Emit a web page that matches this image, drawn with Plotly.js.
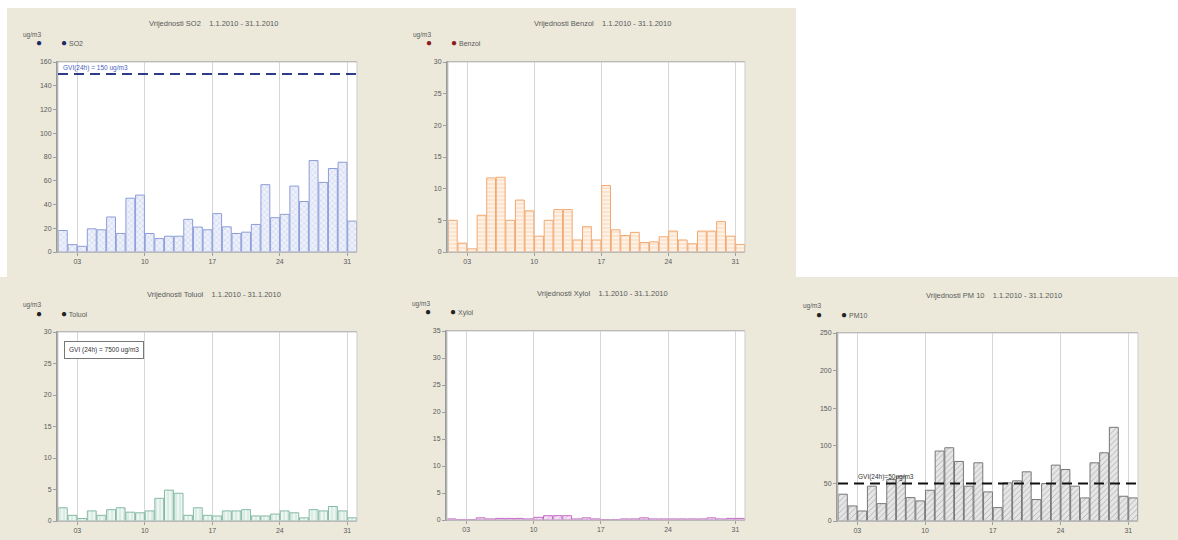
<!DOCTYPE html>
<html>
<head>
<meta charset="utf-8">
<script src="https://cdn.plot.ly/plotly-3.0.1.min.js"></script>
<style>html,body{margin:0;padding:0;background:#fff;}#chart{width:1178px;height:540px;}</style>
</head>
<body>
<div id="chart"></div>
<script>
// ---- data ----
const days = Array.from({length: 31}, (_, i) => i + 1);
const tickVals = [3, 10, 17, 24, 31];
const tickText = ['03', '10', '17', '24', '31'];
const period = '1.1.2010 - 31.1.2010';
const unit = 'ug/m3';

const so2 = [18.1, 6.2, 4.8, 19.5, 18.7, 29.5, 15.6, 45.3, 47.9, 15.6, 11.3, 13.3, 13.3, 27.5, 21.0, 18.7, 32.3, 21.2, 15.6, 16.7, 23.2, 56.7, 28.9, 31.7, 55.5, 42.5, 77.0, 58.6, 70.3, 75.6, 26.0];
const benzol = [5.0, 1.4, 0.5, 5.8, 11.7, 11.8, 5.0, 8.2, 6.5, 2.5, 5.0, 6.7, 6.7, 1.9, 4.0, 1.9, 10.5, 3.5, 2.6, 3.1, 1.5, 1.6, 2.4, 3.3, 1.9, 1.3, 3.3, 3.3, 4.8, 2.5, 1.2];
const toluol = [2.1, 0.9, 0.4, 1.6, 0.9, 1.8, 2.1, 1.4, 1.3, 1.6, 3.6, 4.9, 4.4, 0.9, 2.1, 0.9, 0.8, 1.6, 1.6, 1.8, 0.8, 0.8, 1.1, 1.6, 1.3, 0.5, 1.8, 1.6, 2.3, 1.6, 0.5];
const xylol = [0.2, 0.1, 0.1, 0.4, 0.2, 0.3, 0.3, 0.3, 0.2, 0.5, 0.8, 0.8, 0.8, 0.2, 0.4, 0.2, 0.1, 0.1, 0.2, 0.2, 0.4, 0.2, 0.2, 0.2, 0.2, 0.2, 0.2, 0.4, 0.2, 0.3, 0.3];
const pm10 = [35.6, 20.0, 13.3, 46.3, 23.1, 55.2, 59.6, 31.1, 26.7, 40.9, 93.0, 97.4, 79.2, 46.3, 77.4, 38.7, 17.8, 50.7, 53.4, 65.4, 28.5, 49.8, 74.3, 68.5, 46.3, 30.7, 77.4, 90.7, 124.6, 32.9, 30.7];

const so2Limit = 150;
const pm10Limit = 50;
const so2LimitText = 'GVI(24h) = 150 ug/m3';
const toluolLimitText = 'GVI (24h) = 7500 ug/m3';
const pm10LimitText = 'GVI(24h)=50ug/m3';

// ---- layout helpers ----
const W = 1178, H = 540;
const PX = p => p / W;
const PY = p => 1 - p / H;

const panels = [
  {name: 'SO2', vals: so2, ymax: 160, dtick: 20, box: [58, 357, 62, 252],
   line: '#8d9dd8', fill: '#eef1fa', pat: '#bcc7ec', pshape: 'x', dot: '#1c2a66'},
  {name: 'Benzol', vals: benzol, ymax: 30, dtick: 5, box: [448, 745, 62, 252],
   line: '#f2a870', fill: '#fef2e6', pat: '#f8d2ae', pshape: '-', dot: '#8b1a1a'},
  {name: 'Toluol', vals: toluol, ymax: 30, dtick: 5, box: [58, 357, 332, 521],
   line: '#86b9a5', fill: '#edf6f2', pat: '#bcdccf', pshape: '|', dot: '#222222'},
  {name: 'Xylol', vals: xylol, ymax: 35, dtick: 5, box: [447, 745, 331, 520],
   line: '#c46cc6', fill: '#f4e2f4', pat: '#dba6dc', pshape: '/', dot: '#222222'},
  {name: 'PM10', vals: pm10, ymax: 250, dtick: 50, box: [838, 1138, 333, 521],
   line: '#777777', fill: '#e6e6e6', pat: '#ababab', pshape: '/', dot: '#222222'}
];
const titles = ['Vrijednosti SO2', 'Vrijednosti Benzol', 'Vrijednosti Toluol', 'Vrijednosti Xylol', 'Vrijednosti PM 10'];

const beige = '#ece9da';
const txt = '#5a5a5a';
const fontFam = 'Liberation Sans, Arial, sans-serif';

const data = [];
const layout = {
  width: W, height: H,
  margin: {l: 0, r: 0, t: 0, b: 0},
  paper_bgcolor: beige,
  plot_bgcolor: '#ffffff',
  showlegend: false,
  bargap: 0,
  font: {family: fontFam, size: 7, color: txt},
  shapes: [
    // white areas outside the panel images
    {type: 'rect', xref: 'paper', yref: 'paper', x0: 0, x1: PX(796), y0: PY(8), y1: 1, fillcolor: '#fff', line: {width: 0}, layer: 'below'},
    {type: 'rect', xref: 'paper', yref: 'paper', x0: 0, x1: PX(7), y0: PY(277), y1: 1, fillcolor: '#fff', line: {width: 0}, layer: 'below'},
    {type: 'rect', xref: 'paper', yref: 'paper', x0: PX(796), x1: 1, y0: PY(277), y1: 1, fillcolor: '#fff', line: {width: 0}, layer: 'below'}
  ],
  annotations: []
};

panels.forEach((p, i) => {
  const n = i === 0 ? '' : String(i + 1);
  const xa = 'xaxis' + n, ya = 'yaxis' + n;
  const xr = 'x' + n, yr = 'y' + n;
  const [l, r, t, b] = p.box;

  data.push({
    type: 'bar', x: days, y: p.vals, xaxis: xr, yaxis: yr,
    offset: 0.04, width: 0.92,
    marker: {
      color: p.fill,
      line: {color: p.line, width: 1},
      pattern: {shape: p.pshape, fgcolor: p.pat, bgcolor: p.fill, size: 4, solidity: 0.2}
    },
    hoverinfo: 'x+y'
  });

  layout[xa] = {
    domain: [PX(l), PX(r)], anchor: yr, range: [1, 32],
    tickvals: tickVals, ticktext: tickText,
    showgrid: true, gridcolor: '#d6d6d6', gridwidth: 1,
    showline: true, linecolor: '#a8a8a8', linewidth: 1, mirror: true,
    ticks: 'outside', ticklen: 3, tickcolor: '#a0a0a0',
    tickfont: {size: 7, color: txt, family: fontFam},
    zeroline: false, fixedrange: true
  };
  layout[ya] = {
    domain: [PY(b), PY(t)], anchor: xr, range: [0, p.ymax], dtick: p.dtick,
    showgrid: false,
    showline: true, linecolor: '#9a9a9a', linewidth: 2, mirror: false,
    ticks: 'outside', ticklen: 3, tickcolor: '#a0a0a0',
    tickfont: {size: 7, color: txt, family: fontFam},
    zeroline: false, fixedrange: true
  };
  // light frame on top/right
  layout.shapes.push({type: 'rect', xref: xr + ' domain', yref: yr + ' domain', x0: 0, x1: 1, y0: 0, y1: 1,
    line: {color: '#cccccc', width: 1}, fillcolor: 'rgba(0,0,0,0)', layer: 'above'});

  const cx = (l + r) / 2 + 6;
  layout.annotations.push(
    {xref: 'paper', yref: 'paper', x: PX(cx), y: PY(t - 38), text: titles[i] + '    ' + period,
     showarrow: false, font: {size: 7.5, color: txt}, xanchor: 'center', yanchor: 'middle'},
    {xref: 'paper', yref: 'paper', x: PX(l - 26), y: PY(t - 27), text: unit,
     showarrow: false, font: {size: 6.5, color: txt}, xanchor: 'center', yanchor: 'middle'},
    {xref: 'paper', yref: 'paper', x: PX(l - 19), y: PY(t - 19), text: '●',
     showarrow: false, font: {size: 10, color: p.dot}, xanchor: 'center', yanchor: 'middle'},
    {xref: 'paper', yref: 'paper', x: PX(l + 1), y: PY(t - 19), text: '<span style="font-size:10px;color:' + p.dot + '">●</span> ' + p.name,
     showarrow: false, font: {size: 7, color: txt}, xanchor: 'left', yanchor: 'middle'}
  );
});

// limit lines
layout.shapes.push({type: 'line', xref: 'x domain', yref: 'y', x0: 0, x1: 1, y0: so2Limit, y1: so2Limit,
  line: {color: '#2c3d8a', width: 2, dash: '10px,6px'}, layer: 'above'});
layout.annotations.push({xref: 'x domain', yref: 'y', x: 0.01, y: so2Limit, text: so2LimitText,
  showarrow: false, xanchor: 'left', yanchor: 'bottom', yshift: 0, font: {size: 6.5, color: '#4a64c0'}});

layout.shapes.push({type: 'line', xref: 'x5 domain', yref: 'y5', x0: 0, x1: 1, y0: pm10Limit, y1: pm10Limit,
  line: {color: '#111111', width: 2, dash: '10px,6px'}, layer: 'above'});
layout.annotations.push({xref: 'x5 domain', yref: 'y5', x: 0.06, y: pm10Limit, text: pm10LimitText,
  showarrow: false, xanchor: 'left', yanchor: 'bottom', font: {size: 6.5, color: '#333'}});

layout.annotations.push({xref: 'x3 domain', yref: 'y3 domain', x: 0.02, y: 0.955, text: toluolLimitText,
  showarrow: false, xanchor: 'left', yanchor: 'top', font: {size: 6.5, color: '#333'},
  bordercolor: '#777', borderwidth: 1, borderpad: 4, bgcolor: '#fff'});

Plotly.newPlot('chart', data, layout, {displayModeBar: false, staticPlot: true});
</script>
</body>
</html>
